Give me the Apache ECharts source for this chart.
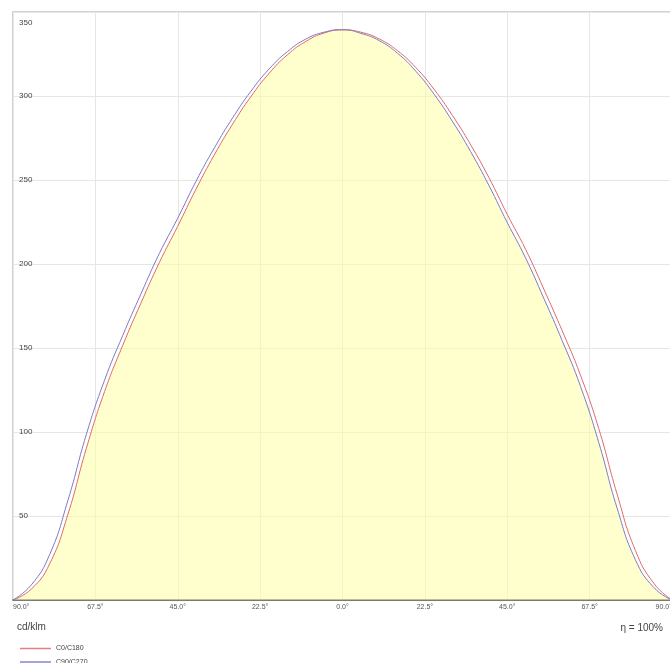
<!DOCTYPE html>
<html>
<head>
<meta charset="utf-8">
<title>cd/klm</title>
<script src="https://cdn.jsdelivr.net/npm/echarts@6/dist/echarts.min.js"></script>
<style>
  html, body { margin: 0; padding: 0; background: #fff; }
  #chart { width: 670px; height: 663px; }
</style>
</head>
<body>
<div id="chart"></div>
<script>
// gamma angles, degrees
var angles = [-90, -85, -80, -75, -70, -65, -60, -55, -50, -45, -40, -35, -30, -25, -20, -15, -10, -5,
  0, 5, 10, 15, 20, 25, 30, 35, 40, 45, 50, 55, 60, 65, 70, 75, 80, 85, 90];

// intensities in cd/klm
var c0c180 = [0, 6.5, 21.5, 51, 90, 124, 151.7, 177, 201, 222.5, 244.6, 265, 283.3, 299.7, 313.6, 324.6, 332.5, 337.5,
  339.3, 338, 334, 327, 317, 304, 288.5, 271, 251.4, 229.5, 208.8, 185, 160.3, 133.8, 102, 63, 29.5, 10, 0];
var c90c270 = [0, 9, 27, 59.3, 98.3, 130.8, 157.6, 182.5, 206.4, 227.3, 249.3, 269.1, 287, 302.9, 316.2, 326.5, 333.9, 338,
  339.5, 337.3, 333, 325.5, 314.8, 301.1, 285, 266.9, 246.7, 224.7, 203.6, 179.5, 154.4, 127.2, 93.7, 54.7, 24, 7.5, 0];

var xTicks = ['90.0°', '67.5°', '45.0°', '22.5°', '0.0°', '22.5°', '45.0°', '67.5°', '90.0°'];

function pairs(vals) {
  return angles.map(function (a, i) { return [a, vals[i]]; });
}
// the yellow area follows the lower of the two curves
var inner = angles.map(function (a, i) { return [a, Math.min(c0c180[i], c90c270[i])]; });

var txt = { fontSize: 7, color: '#444', fontFamily: 'Liberation Sans' };

var chart = echarts.init(document.getElementById('chart'));
chart.setOption({
  animation: false,
  title: [
    { text: 'cd/klm', left: 12, top: 617, textStyle: { fontSize: 10, fontWeight: 'normal', color: '#444', fontFamily: 'Liberation Sans' } },
    { text: 'η = 100%', right: 2, top: 618, textStyle: { fontSize: 10, fontWeight: 'normal', color: '#444', fontFamily: 'Liberation Sans' } }
  ],
  legend: [
    { left: 15, top: 640, itemWidth: 31, itemHeight: 1.5, data: [{ name: 'C0/C180', icon: 'rect' }], textStyle: txt },
    { left: 15, top: 654, itemWidth: 31, itemHeight: 3, data: [{ name: 'C90/C270', icon: 'rect' }], textStyle: txt }
  ],
  grid: {
    left: 13, top: 12, width: 659, height: 588,
    outerBoundsMode: 'none',
    show: true, borderColor: '#c4c4c4', borderWidth: 1.5
  },
  xAxis: {
    type: 'value',
    min: -90, max: 90, interval: 22.5,
    axisLine: { lineStyle: { color: '#555', width: 1.5 } },
    axisTick: { show: false },
    splitLine: { lineStyle: { color: '#e6e6e6' } },
    axisLabel: {
      fontSize: 7, color: '#555', margin: 4,
      alignMinLabel: 'left', alignMaxLabel: 'right',
      formatter: function (v) { return xTicks[Math.round((v + 90) / 22.5)]; }
    }
  },
  yAxis: {
    type: 'value',
    min: 0, max: 350, interval: 50,
    axisLine: { show: false },
    axisTick: { show: false },
    splitLine: { lineStyle: { color: '#e6e6e6' } },
    axisLabel: {
      inside: true, fontSize: 8, color: '#444', margin: 6,
      formatter: function (v) {
        if (v === 0) return '';
        if (v === 350) return '{top|350}';
        return v;
      },
      rich: { top: { fontSize: 8, color: '#444', padding: [22, 0, 0, 0] } }
    }
  },
  series: [
    {
      name: 'fill', type: 'line', data: inner, smooth: true, showSymbol: false,
      lineStyle: { width: 0 }, areaStyle: { color: 'rgba(255,255,165,0.78)' }, z: 1, silent: true
    },
    {
      name: 'C0/C180', type: 'line', data: pairs(c0c180), smooth: true, showSymbol: false,
      color: '#e68080', lineStyle: { width: 1, color: '#e06a6a' }, z: 3
    },
    {
      name: 'C90/C270', type: 'line', data: pairs(c90c270), smooth: true, showSymbol: false,
      color: '#a4a4dc', lineStyle: { width: 1, color: '#7c7cc4' }, z: 3
    }
  ]
});
</script>
</body>
</html>
